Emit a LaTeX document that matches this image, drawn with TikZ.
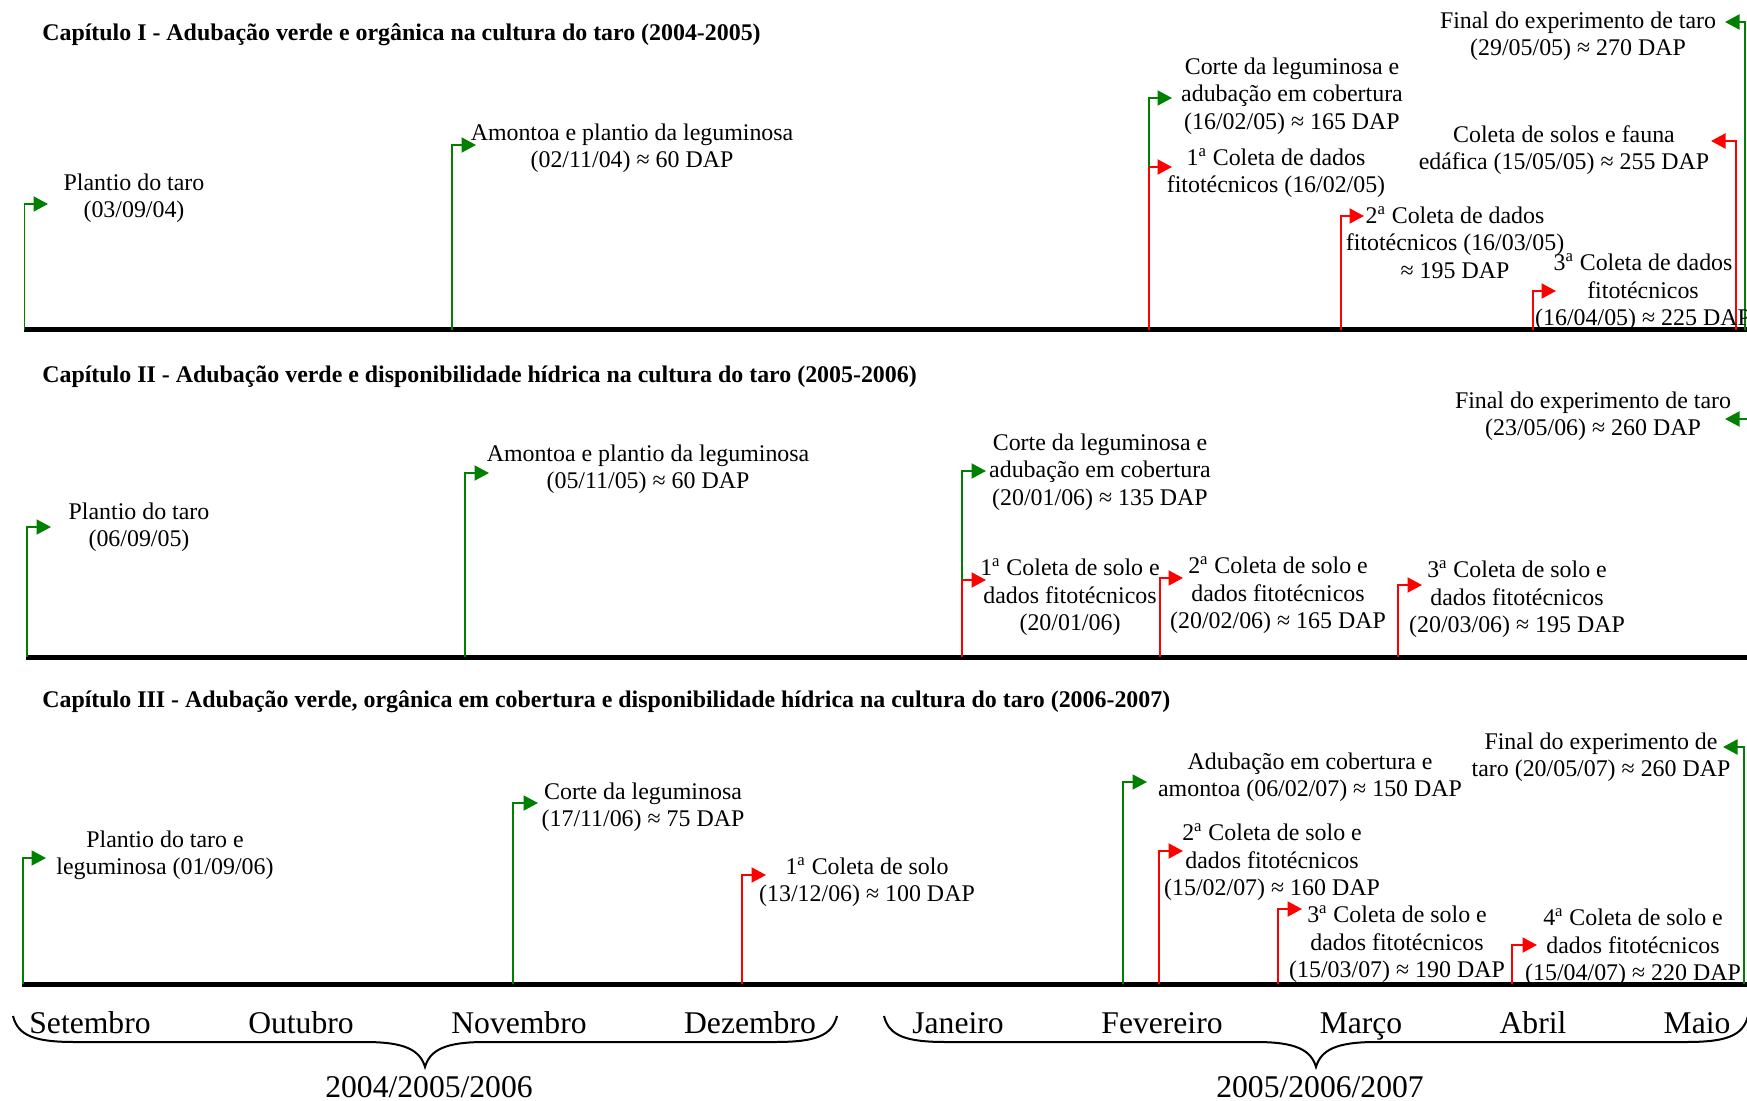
\documentclass[tikz,border=0pt]{standalone}
\usepackage{fontspec}
\setmainfont{Liberation Serif}
\usetikzlibrary{arrows.meta}
\definecolor{flaggreen}{RGB}{0,128,0}
\definecolor{flagred}{RGB}{255,0,0}

\begin{document}
\begin{tikzpicture}[x=0.02cm,y=-0.02cm,
    axisline/.style={line width=0.1cm},
    gflag/.style={flaggreen,line width=0.04cm,-{Triangle[length=0.29cm,width=0.3cm]}},
    rflag/.style={flagred,line width=0.04cm,-{Triangle[length=0.29cm,width=0.3cm]}},
    lbl/.style={align=center,inner sep=0pt,yshift=-0.045cm,font=\fontsize{13.6}{15.6}\selectfont},
    ttl/.style={anchor=west,inner sep=0pt,yshift=-0.065cm,font=\fontsize{13.6}{15.6}\selectfont\bfseries},
    month/.style={inner sep=0pt,anchor=base,font=\fontsize{18}{21}\selectfont},
    yearlbl/.style={inner sep=0pt,font=\fontsize{18}{21}\selectfont},
    bracel/.style={line width=0.04cm}]

    \useasboundingbox (0,0) rectangle (1747,1101);

    % Capitulo I
    \node[ttl] (T1) at (42,31) {Capítulo I - Adubação verde e orgânica na cultura do taro (2004-2005)};
    \coordinate (ax1s) at (24,330);
    \coordinate (ax1e) at (1750,330);
    \draw[axisline] (ax1s) -- (ax1e);

    \coordinate (A1) at (24.5,330);  \coordinate (A1t) at (48,204);
    \coordinate (A2) at (452,330);   \coordinate (A2t) at (476,145);
    \coordinate (A3) at (1149,330);  \coordinate (A3r) at (1172,167);
    \coordinate (A3j) at (1149,167); \coordinate (A3g) at (1172,98);
    \coordinate (A4) at (1341,330);  \coordinate (A4t) at (1364,216);
    \coordinate (A5) at (1533,330);  \coordinate (A5t) at (1556,291);
    \coordinate (A6) at (1736,330);  \coordinate (A6t) at (1711,141);
    \coordinate (A7) at (1745,330);  \coordinate (A7t) at (1725,22);
    \draw[gflag] (A1) |- (A1t);
    \draw[gflag] (A2) |- (A2t);
    \draw[rflag] (A3) |- (A3r);
    \draw[gflag] (A3j) |- (A3g);
    \draw[rflag] (A4) |- (A4t);
    \draw[rflag] (A5) |- (A5t);
    \draw[rflag] (A6) |- (A6t);
    \draw[gflag] (A7) |- (A7t);

    \node[lbl] (LA1) at (134,196) {Plantio do taro\\(03/09/04)};
    \node[lbl] (LA2) at (632,146) {Amontoa e plantio da leguminosa\\(02/11/04) ≈ 60 DAP};
    \node[lbl] (LA3) at (1292,94) {Corte da leguminosa e\\adubação em cobertura\\(16/02/05) ≈ 165 DAP};
    \node[lbl] (LA4) at (1276,171) {1\textsuperscript{a} Coleta de dados\\fitotécnicos (16/02/05)};
    \node[lbl] (LA5) at (1455,240) {2\textsuperscript{a} Coleta de dados\\fitotécnicos (16/03/05)\\≈ 195 DAP};
    \node[lbl] (LA6) at (1643,290) {3\textsuperscript{a} Coleta de dados\\fitotécnicos\\(16/04/05) ≈ 225 DAP};
    \node[lbl] (LA7) at (1564,148) {Coleta de solos e fauna\\edáfica (15/05/05) ≈ 255 DAP};
    \node[lbl] (LA8) at (1578,34) {Final do experimento de taro\\(29/05/05) ≈ 270 DAP};

    % Capitulo II
    \node[ttl] (T2) at (42,373) {Capítulo II - Adubação verde e disponibilidade hídrica na cultura do taro (2005-2006)};
    \coordinate (ax2s) at (26,657);
    \coordinate (ax2e) at (1750,657);
    \draw[axisline] (ax2s) -- (ax2e);

    \coordinate (B1) at (27,657);    \coordinate (B1t) at (51,527);
    \coordinate (B2) at (465,657);   \coordinate (B2t) at (489,473);
    \coordinate (B3) at (962,657);   \coordinate (B3r) at (986,580);
    \coordinate (B3j) at (962,580);  \coordinate (B3g) at (986,471);
    \coordinate (B4) at (1160,657);  \coordinate (B4t) at (1183,578);
    \coordinate (B5) at (1398,657);  \coordinate (B5t) at (1422,585);
    \coordinate (B6) at (1753,657);  \coordinate (B6t) at (1725,419);
    \draw[gflag] (B1) |- (B1t);
    \draw[gflag] (B2) |- (B2t);
    \draw[rflag] (B3) |- (B3r);
    \draw[gflag] (B3j) |- (B3g);
    \draw[rflag] (B4) |- (B4t);
    \draw[rflag] (B5) |- (B5t);
    \draw[gflag] (B6) |- (B6t);

    \node[lbl] (LB1) at (139,525) {Plantio do taro\\(06/09/05)};
    \node[lbl] (LB2) at (648,467) {Amontoa e plantio da leguminosa\\(05/11/05) ≈ 60 DAP};
    \node[lbl] (LB3) at (1100,470) {Corte da leguminosa e\\adubação em cobertura\\(20/01/06) ≈ 135 DAP};
    \node[lbl] (LB4) at (1070,595) {1\textsuperscript{a} Coleta de solo e\\dados fitotécnicos\\(20/01/06)};
    \node[lbl] (LB5) at (1278,593) {2\textsuperscript{a} Coleta de solo e\\dados fitotécnicos\\(20/02/06) ≈ 165 DAP};
    \node[lbl] (LB6) at (1517,597) {3\textsuperscript{a} Coleta de solo e\\dados fitotécnicos\\(20/03/06) ≈ 195 DAP};
    \node[lbl] (LB7) at (1593,414) {Final do experimento de taro\\(23/05/06) ≈ 260 DAP};

    % Capitulo III
    \node[ttl] (T3) at (42,698) {Capítulo III - Adubação verde, orgânica em cobertura e disponibilidade hídrica na cultura do taro (2006-2007)};
    \coordinate (ax3s) at (22,984);
    \coordinate (ax3e) at (1750,984);
    \draw[axisline] (ax3s) -- (ax3e);

    \coordinate (C1) at (23,984);    \coordinate (C1t) at (46,858);
    \coordinate (C2) at (513,984);   \coordinate (C2t) at (538,803);
    \coordinate (C3) at (742,984);   \coordinate (C3t) at (766,875);
    \coordinate (C4) at (1123,984);  \coordinate (C4t) at (1147,782);
    \coordinate (C5) at (1159,984);  \coordinate (C5t) at (1183,851);
    \coordinate (C6) at (1278,984);  \coordinate (C6t) at (1302,909);
    \coordinate (C7) at (1512,984);  \coordinate (C7t) at (1537,945);
    \coordinate (C8) at (1744,984);  \coordinate (C8t) at (1723,747);
    \draw[gflag] (C1) |- (C1t);
    \draw[gflag] (C2) |- (C2t);
    \draw[rflag] (C3) |- (C3t);
    \draw[gflag] (C4) |- (C4t);
    \draw[rflag] (C5) |- (C5t);
    \draw[rflag] (C6) |- (C6t);
    \draw[rflag] (C7) |- (C7t);
    \draw[gflag] (C8) |- (C8t);

    \node[lbl] (LC1) at (165,853) {Plantio do taro e\\leguminosa (01/09/06)};
    \node[lbl] (LC2) at (643,805) {Corte da leguminosa\\(17/11/06) ≈ 75 DAP};
    \node[lbl] (LC3) at (867,880) {1\textsuperscript{a} Coleta de solo\\(13/12/06) ≈ 100 DAP};
    \node[lbl] (LC4) at (1310,775) {Adubação em cobertura e\\amontoa (06/02/07) ≈ 150 DAP};
    \node[lbl] (LC5) at (1272,860) {2\textsuperscript{a} Coleta de solo e\\dados fitotécnicos\\(15/02/07) ≈ 160 DAP};
    \node[lbl] (LC6) at (1397,942) {3\textsuperscript{a} Coleta de solo e\\dados fitotécnicos\\(15/03/07) ≈ 190 DAP};
    \node[lbl] (LC7) at (1633,945) {4\textsuperscript{a} Coleta de solo e\\dados fitotécnicos\\(15/04/07) ≈ 220 DAP};
    \node[lbl] (LC8) at (1601,755) {Final do experimento de\\taro (20/05/07) ≈ 260 DAP};

    % meses
    \node[month] (m9) at (90,1033) {Setembro};
    \node[month] (m10) at (301,1033) {Outubro};
    \node[month] (m11) at (519,1033) {Novembro};
    \node[month] (m12) at (750,1033) {Dezembro};
    \node[month] (m1) at (958,1033) {Janeiro};
    \node[month] (m2) at (1162,1033) {Fevereiro};
    \node[month] (m3) at (1361,1033) {Março};
    \node[month] (m4) at (1533,1033) {Abril};
    \node[month] (m5) at (1697,1033) {Maio};

    \draw[bracel] (13,1016) .. controls (18,1036) and (35,1042) .. (75,1042) -- (365,1042)
        .. controls (405,1042) and (420,1050) .. (425,1067) .. controls (430,1050) and (445,1042) .. (485,1042)
        -- (775,1042) .. controls (815,1042) and (832,1036) .. (837,1016);
    \draw[bracel] (884,1016) .. controls (889,1036) and (906,1042) .. (946,1042) -- (1256,1042)
        .. controls (1296,1042) and (1311,1050) .. (1316,1067) .. controls (1321,1050) and (1336,1042) .. (1376,1042)
        -- (1686,1042) .. controls (1726,1042) and (1743,1036) .. (1748,1016);

    \node[yearlbl] (y1) at (429,1087) {2004/2005/2006};
    \node[yearlbl] (y2) at (1320,1087) {2005/2006/2007};
\end{tikzpicture}
\end{document}
